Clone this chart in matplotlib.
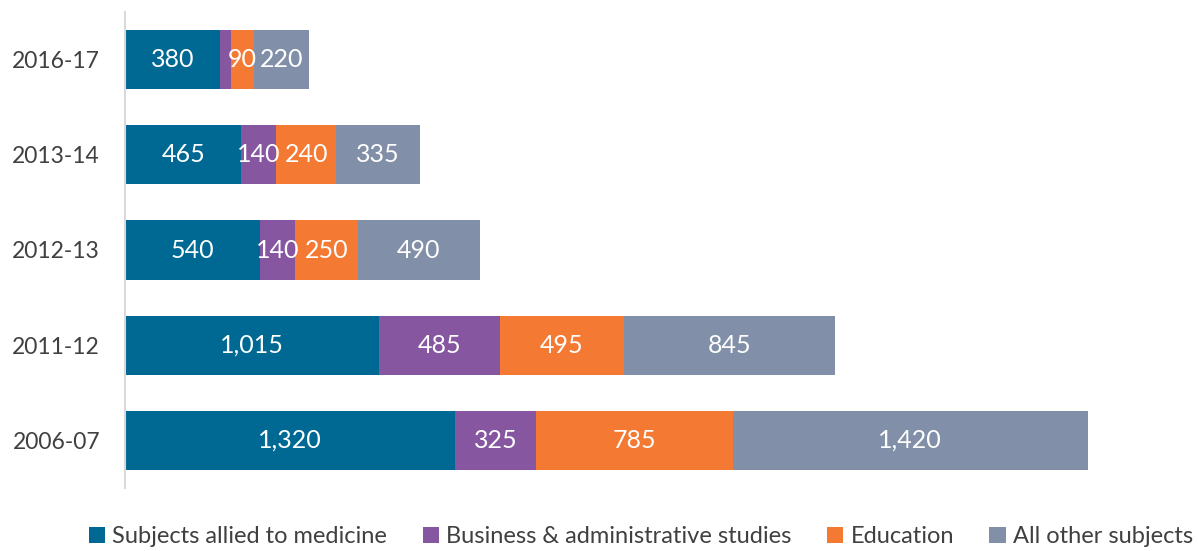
import matplotlib
matplotlib.use("Agg")
import matplotlib.pyplot as plt
import numpy as np

plt.rcParams["font.family"] = ["Lato", "DejaVu Sans"]

years = ["2006-07", "2011-12", "2012-13", "2013-14", "2016-17"]
medicine = [1320, 1015, 540, 465, 380]
business = [325, 485, 140, 140, 45]
education = [785, 495, 250, 240, 90]
other = [1420, 845, 490, 335, 220]

series_names = ["Subjects allied to medicine", "Business & administrative studies",
                "Education", "All other subjects"]
colors = ["#006993", "#8756A0", "#F47A34", "#8190A8"]

fig = plt.figure(figsize=(11.98, 5.51), dpi=100)
ax = fig.add_axes([125 / 1198, 1 - 488 / 551, 1000 / 1198, 476 / 551])

y = np.arange(len(years))
left = np.zeros(len(years))
for vals, name, col in zip([medicine, business, education, other], series_names, colors):
    bars = ax.barh(y, vals, left=left, height=0.62, color=col, label=name)
    for b, v in zip(bars, vals):
        if v < 60:
            continue  # too narrow for a label, as in the original
        ax.text(b.get_x() + b.get_width() / 2, b.get_y() + b.get_height() / 2,
                f"{v:,}", ha="center", va="center", color="white", fontsize=18)
    left += np.array(vals)

ax.set_xlim(0, 4000)
ax.set_ylim(-0.5, 4.5)
ax.set_yticks(y)
ax.set_yticklabels(years, fontsize=16.5, color="#404040")
ax.set_xticks([])
ax.tick_params(axis="y", length=0, pad=18)
for s in ["top", "right", "bottom"]:
    ax.spines[s].set_visible(False)
ax.spines["left"].set_color("#D9D9D9")
ax.spines["left"].set_linewidth(1.5)

fig.legend(loc="lower center", bbox_to_anchor=(0.535, -0.032), ncol=4, frameon=False,
           fontsize=17, handlelength=0.7, handleheight=0.7, handletextpad=0.3,
           columnspacing=1.5, labelcolor="#404040")

fig.savefig("out.png", dpi=100)
